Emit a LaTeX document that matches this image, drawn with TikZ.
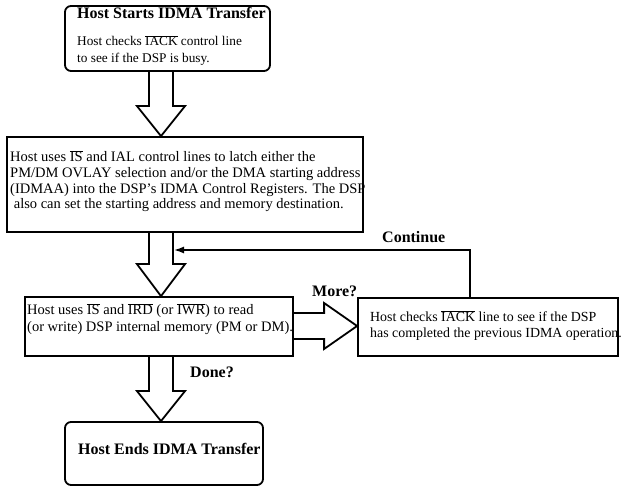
\documentclass[tikz,border=0pt]{standalone}
\usepackage{fontspec}
\setmainfont{Liberation Serif}
\usetikzlibrary{arrows.meta,calc}
\newcommand\ovl[1]{$\overline{\hbox{#1}}$}
\tikzset{
  box/.style={draw, line width=1.8pt, inner sep=0pt},
  rbox/.style={box, rounded corners=6pt},
  txt/.style={inner sep=0pt, anchor=base west, align=left},
  ttl/.style={inner sep=0pt, anchor=base west, font=\fontsize{16}{19}\selectfont\bfseries},
  blk/.style={draw, line width=1.8pt, line join=miter},
  cont/.style={draw, line width=1.5pt, -{Latex[length=10pt,width=7pt]}},
}
\begin{document}
\begin{tikzpicture}[x=1pt,y=-1pt]
\useasboundingbox (0,0) rectangle (622,486);
% boxes
\node[rbox, minimum width=205pt, minimum height=65pt] (b1) at (167.5,38.5) {};
\node[box, minimum width=356pt, minimum height=95pt] (b2) at (185,184.5) {};
\node[box, minimum width=268pt, minimum height=59pt] (b3) at (159,326.5) {};
\node[box, minimum width=260pt, minimum height=58pt] (b4) at (488,327) {};
\node[rbox, minimum width=198pt, minimum height=63pt] (b5) at (164,453.5) {};
% texts (anchored at the baseline of the last line)
\node[ttl] (t1a) at (77,19) {Host Starts IDMA Transfer};
\node[txt, font=\fontsize{13.3}{17}\selectfont] (t1b) at (77,63)
  {Host checks \ovl{IACK} control line\\to see if the DSP is busy.};
\node[txt, font=\fontsize{14.5}{15.7}\selectfont] (t2) at (10,209)
  {Host uses \ovl{IS} and IAL control lines to latch either the\\
   PM/DM OVLAY selection and/or the DMA starting address\\
   (IDMAA) into the DSP's IDMA Control Registers. The DSP\\
   \ also can set the starting address and memory destination.};
\node[txt, font=\fontsize{14.5}{17}\selectfont] (t3) at (27,332)
  {Host uses \ovl{IS} and \ovl{IRD} (or \ovl{IWR}) to read\\
   (or write) DSP internal memory (PM or DM).};
\node[txt, font=\fontsize{13.9}{16}\selectfont] (t4) at (370,338)
  {Host checks \ovl{IACK} line to see if the DSP\\
   has completed the previous IDMA operation.};
\node[ttl] (t5) at (78,455) {Host Ends IDMA Transfer};
\node[ttl] (lc) at (382,243) {Continue};
\node[ttl] (lm) at (312,297) {More?};
\node[ttl] (ld) at (190,378) {Done?};
% block arrows down
\draw[blk] let \p1=(b1.south), \p2=(b2.north) in
  (149pt,\y1) -- (149pt,\y2+30pt) -- (137pt,\y2+30pt) -- (161pt,\y2)
  -- (185pt,\y2+30pt) -- (173pt,\y2+30pt) -- (173pt,\y1);
\draw[blk] let \p1=(b2.south), \p2=(b3.north) in
  (149pt,\y1) -- (149pt,\y2+32pt) -- (137pt,\y2+32pt) -- (161pt,\y2)
  -- (185pt,\y2+32pt) -- (173pt,\y2+32pt) -- (173pt,\y1);
\draw[blk] let \p1=(b3.south), \p2=(b5.north) in
  (149pt,\y1) -- (149pt,\y2+30pt) -- (137pt,\y2+30pt) -- (161pt,\y2)
  -- (185pt,\y2+30pt) -- (173pt,\y2+30pt) -- (173pt,\y1);
% block arrow right
\draw[blk] let \p1=(b3.east), \p2=(b4.west) in
  (\x1,-313pt) -- (\x2-33pt,-313pt) -- (\x2-33pt,-303pt) -- (\x2,-326pt)
  -- (\x2-33pt,-349pt) -- (\x2-33pt,-339pt) -- (\x1,-339pt);
% continue connector
\coordinate (c1) at (470,250);
\coordinate (cend) at (174,250);
\draw[cont] (b4.north -| c1) -- (c1) -- (cend);
\end{tikzpicture}
\end{document}
